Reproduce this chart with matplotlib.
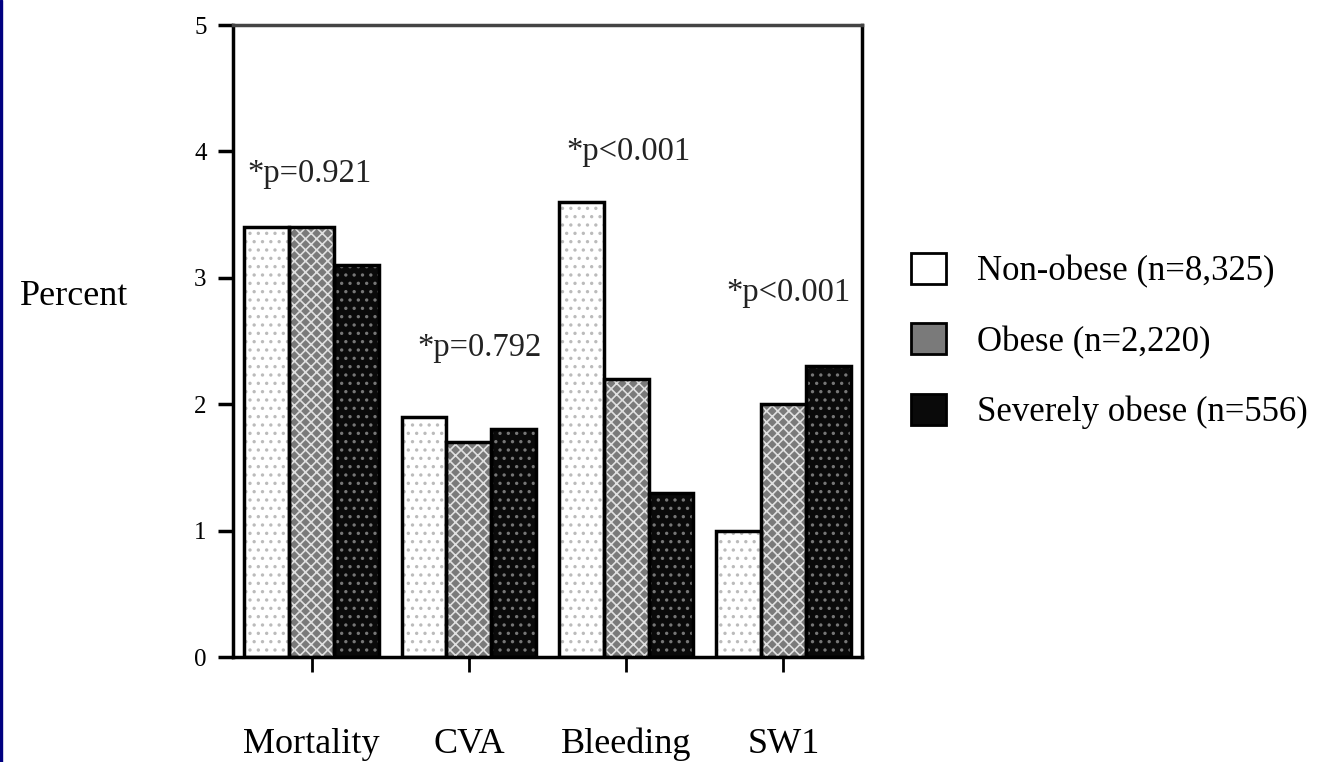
import matplotlib
matplotlib.use("Agg")
import matplotlib.pyplot as plt
from matplotlib.patches import Patch, Rectangle
import numpy as np

categories = ["Mortality", "CVA", "Bleeding", "SW1"]
non_obese = [3.4, 1.9, 3.6, 1.0]
obese = [3.4, 1.7, 2.2, 2.0]
severely_obese = [3.1, 1.8, 1.3, 2.3]
series_labels = ["Non-obese (n=8,325)", "Obese (n=2,220)", "Severely obese (n=556)"]
p_labels = ["*p=0.921", "*p=0.792", "*p<0.001", "*p<0.001"]
p_y = [3.82, 2.45, 4.0, 2.88]
yticks = [0, 1, 2, 3, 4, 5]

plt.rcParams['font.family'] = ['Liberation Serif', 'DejaVu Serif']
plt.rcParams['hatch.linewidth'] = 1.2

fig = plt.figure(figsize=(13.36, 7.62), dpi=100)
ax = fig.add_axes([233/1336, 1 - 657/762, (862-233)/1336, (657-25)/762])

x = np.arange(len(categories))
w = 0.285
styles = [
    dict(face="white", hatch="..", hcolor="#bbbbbb"),
    dict(face="#7a7a7a", hatch="xxx", hcolor="#e0e0e0"),
    dict(face="#0a0a0a", hatch="..", hcolor="#777777"),
]
data = [non_obese, obese, severely_obese]
for i, (vals, st) in enumerate(zip(data, styles)):
    pos = x + (i - 1) * w
    ax.bar(pos, vals, width=w, color=st["face"], edgecolor="none", zorder=2)
    ax.bar(pos, vals, width=w, color="none", edgecolor=st["hcolor"],
           hatch=st["hatch"], linewidth=0, zorder=3)
    ax.bar(pos, vals, width=w, color="none", edgecolor="black",
           linewidth=2.5, zorder=4)

p_dx = [-0.41, -0.33, -0.38, -0.365]
for xi, lab, yy, dx in zip(x, p_labels, p_y, p_dx):
    ax.text(xi + dx, yy, lab, fontsize=23.5, ha="left", va="center",
            color="#222222")

ax.set_xlim(-0.5, 3.5)
ax.set_ylim(0, 5)
ax.set_yticks(yticks)
ax.set_yticklabels([str(t) for t in yticks], fontsize=18)
ax.set_xticks(x)
ax.set_xticklabels(categories, fontsize=26)
ax.tick_params(axis="y", direction="out", length=11, width=2.5, pad=8)
ax.tick_params(axis="x", direction="out", length=11, width=2, pad=40)
for s in ax.spines.values():
    s.set_linewidth(2.5)
ax.spines["top"].set_color("#444444")

ax.set_ylabel("Percent", fontsize=26, rotation=0, labelpad=0)
ax.yaxis.set_label_coords(-0.253, 0.545)

handles = []
for st in styles:
    handles.append(Patch(facecolor=st["face"], edgecolor="black", linewidth=2))
leg = fig.legend(handles, series_labels, loc="upper left",
                 bbox_to_anchor=(880/1336, 1 - 222/762), frameon=False,
                 fontsize=25, handlelength=1.0, handleheight=1.0,
                 handletextpad=0.9, labelspacing=1.0)

fig.patches.append(Rectangle((0, 0), 2/1336, 1, transform=fig.transFigure,
                             color="#000080", zorder=10))

fig.savefig("out.png", dpi=100, facecolor="white")
